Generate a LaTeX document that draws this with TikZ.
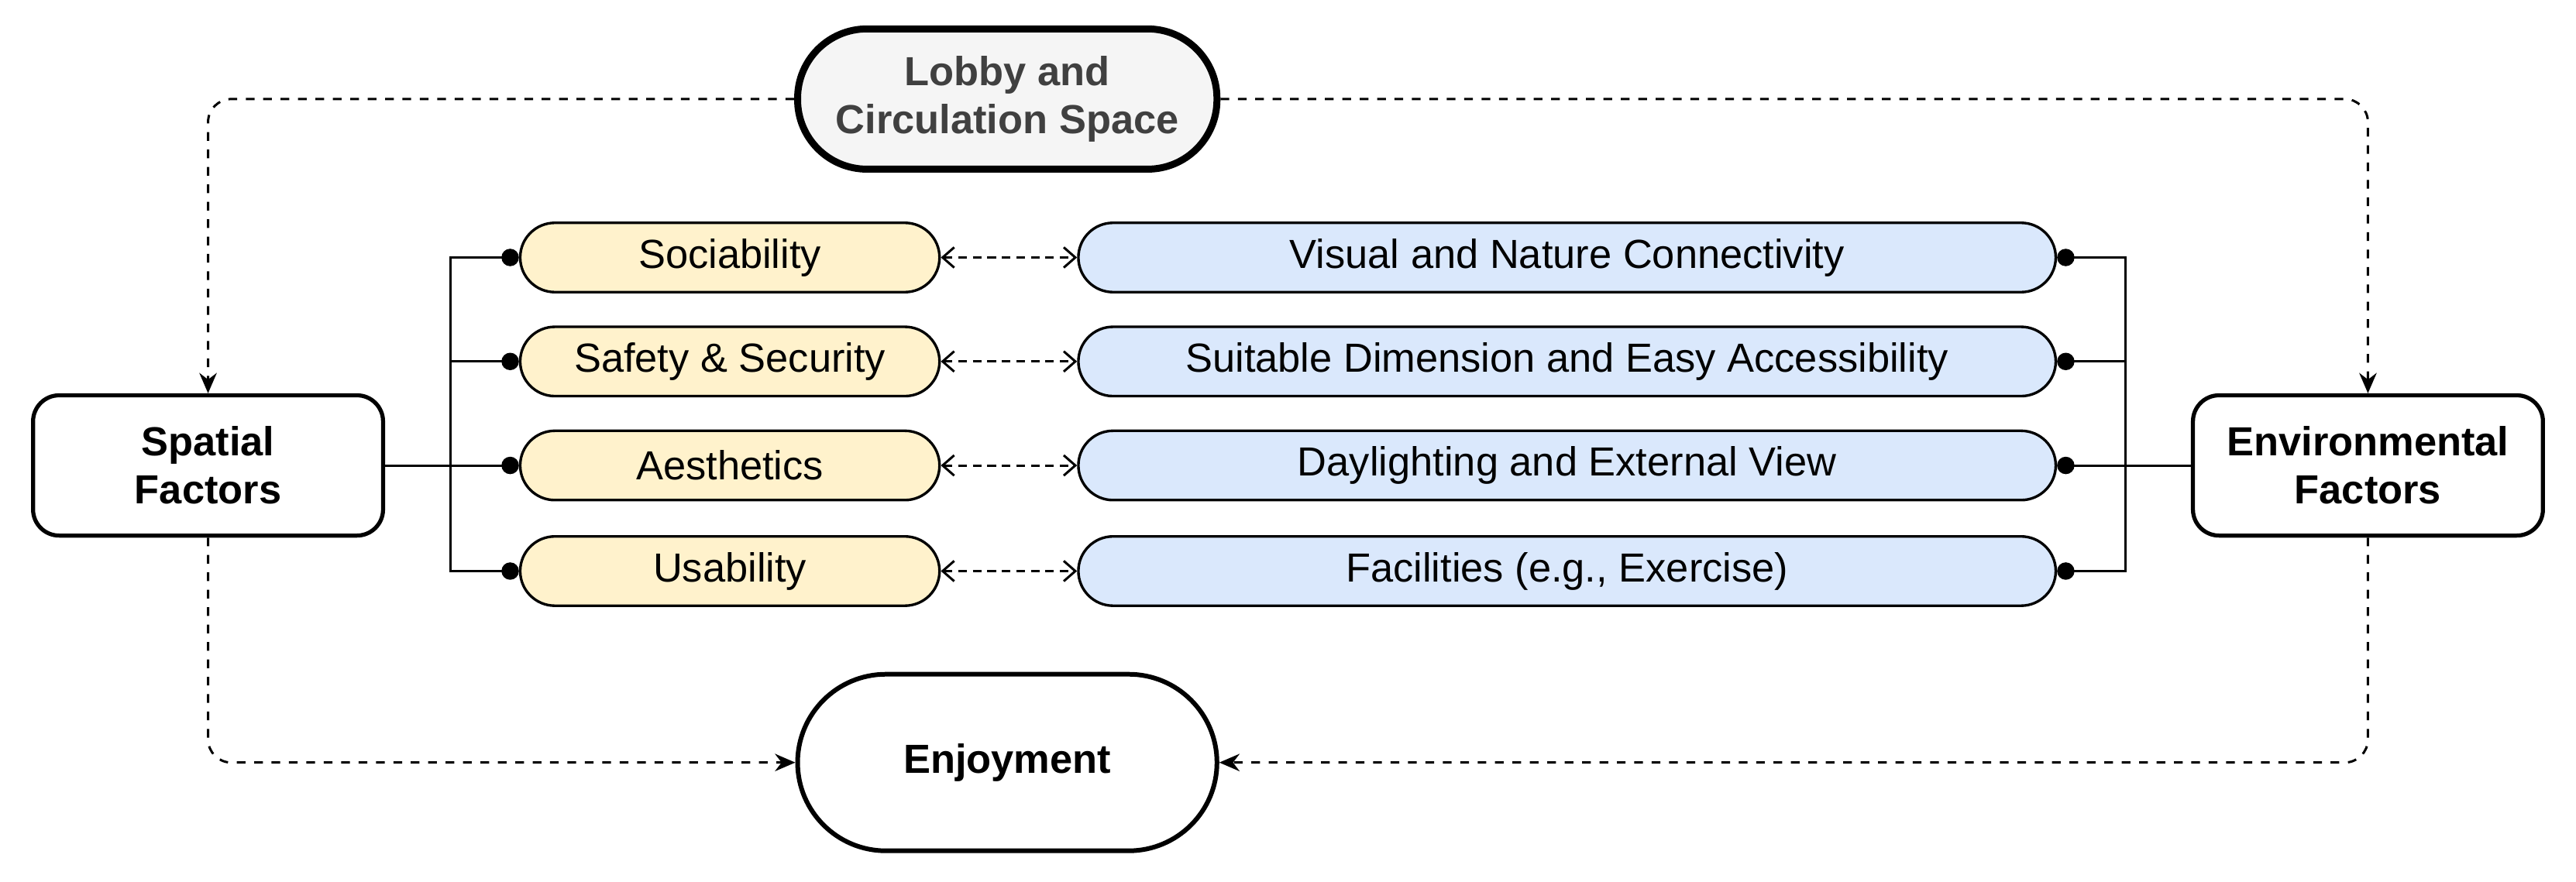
\documentclass[tikz,border=0pt]{standalone}
\usepackage{fontspec}
\setmainfont{Liberation Sans}
\usetikzlibrary{positioning, arrows.meta}
\definecolor{factorfill}{HTML}{FFF2CC}
\definecolor{envfill}{HTML}{DAE8FC}
\definecolor{lobbyfill}{HTML}{F5F5F5}

\begin{document}
\begin{tikzpicture}[x=0.02cm, y=-0.02cm, font=\fontsize{14}{16.5}\selectfont,
		main/.style={draw, line width=1.4pt, rounded corners=9pt, minimum width=4.24cm, minimum height=1.7cm, align=center, font=\fontsize{14}{16.5}\selectfont\bfseries},
		pill/.style={draw, line width=1.6pt, rounded corners=0.84cm, minimum width=5.08cm, minimum height=1.7cm, align=center, font=\fontsize{14}{16.5}\selectfont\bfseries},
		aspect/.style={draw, line width=0.9pt, fill=factorfill, rounded corners=0.42cm, minimum width=5.08cm, minimum height=0.84cm},
		envaspect/.style={draw, line width=0.9pt, fill=envfill, rounded corners=0.42cm, minimum width=11.84cm, minimum height=0.84cm},
		flow/.style={dashed, line width=0.8pt, -{Stealth[length=7pt,width=6pt]}, rounded corners=8pt},
		link/.style={densely dashed, line width=0.8pt, {Straight Barb[length=4pt,width=7pt]}-{Straight Barb[length=4pt,width=7pt]}},
		bus/.style={line width=0.8pt, -{Circle[length=6pt]}}]
	\useasboundingbox (0,0) rectangle (1560,534);

	\node[pill, fill=lobbyfill, text=black!75, line width=2.4pt] (lobby) at (610,60) {Lobby and\\Circulation Space};
	\node[main] (spatial) at (126,282) {Spatial\\Factors};
	\node[main] (env) at (1434,282) {Environmental\\Factors};
	\node[pill, minimum height=2.14cm, rounded corners=1.07cm] (joy) at (610,462) {Enjoyment};

	\node[aspect] (soc) at (442,156) {Sociability};
	\node[aspect] (saf) at (442,219) {Safety \& Security};
	\node[aspect] (aes) at (442,282) {Aesthetics};
	\node[aspect] (usa) at (442,346) {Usability};

	\node[envaspect] (vis) at (949,156) {Visual and Nature Connectivity};
	\node[envaspect] (dim) at (949,219) {Suitable Dimension and Easy Accessibility};
	\node[envaspect] (day) at (949,282) {Daylighting and External View};
	\node[envaspect] (fac) at (949,346) {Facilities (e.g., Exercise)};

	% buses
	\coordinate (lbus) at (273,282);
	\coordinate (rbus) at (1287,282);
	\draw[line width=0.8pt] (spatial.east) -- (lbus);
	\foreach \a in {soc, saf, aes, usa}
		\draw[bus] (lbus) |- (\a.west);
	\draw[line width=0.8pt] (env.west) -- (rbus);
	\foreach \b in {vis, dim, day, fac}
		\draw[bus] (rbus) |- (\b.east);

	% links
	\draw[link] (soc) -- (vis);
	\draw[link] (saf) -- (dim);
	\draw[link] (aes) -- (day);
	\draw[link] (usa) -- (fac);

	% flows
	\draw[flow] (lobby.west) -| (spatial.north);
	\draw[flow] (lobby.east) -| (env.north);
	\draw[flow] (spatial.south) |- (joy.west);
	\draw[flow] (env.south) |- (joy.east);
\end{tikzpicture}
\end{document}
